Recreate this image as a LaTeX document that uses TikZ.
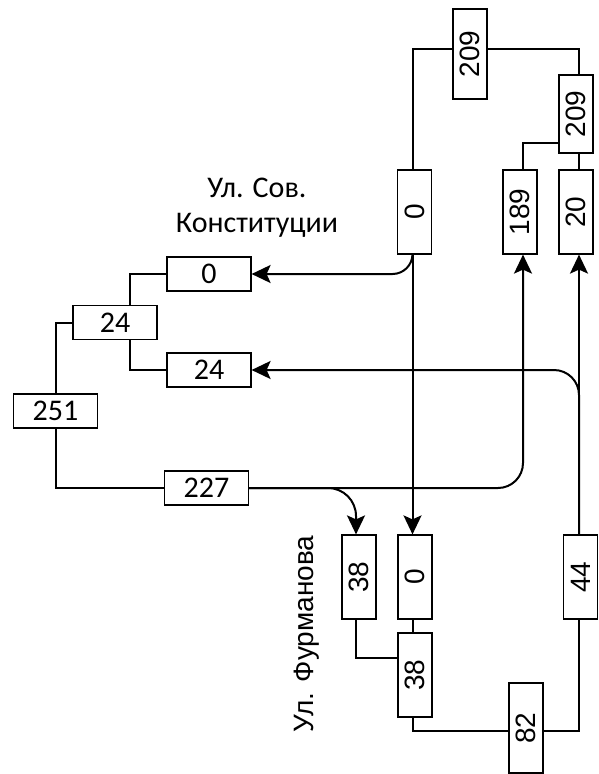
\documentclass[tikz,border=0pt]{standalone}
\usepackage{graphicx}
\usepackage{fontspec}
\setmainfont{Liberation Sans}
\newfontfamily\calfont{Carlito}
\usetikzlibrary{arrows.meta}
\begin{document}
\begin{tikzpicture}[x=1pt,y=-1pt,
  hbox/.style={draw, line width=1.2pt, minimum width=84pt, minimum height=34pt, inner sep=0pt, font=\calfont\fontsize{30}{36}\selectfont},
  vbox/.style={draw, line width=1.2pt, minimum width=34pt, minimum height=84pt, inner sep=0pt, font=\fontsize{28}{34}\selectfont},
  conn/.style={line width=2pt},
  arr/.style={conn, -{Stealth[length=19pt,width=18pt,inset=4pt]}}]
\useasboundingbox[fill=white] (0,0) rectangle (598,774);

% vertical boxes
\node[vbox, minimum height=90pt] (t209) at (470,54) {\rotatebox{90}{209}};
\node[vbox, minimum height=78pt] (t209b) at (576,114) {\rotatebox{90}{209}};
\node[vbox] (z0) at (414.5,212) {\rotatebox{90}{0}};
\node[vbox] (n189) at (520,212) {\rotatebox{90}{189}};
\node[vbox] (n20) at (576,212) {\rotatebox{90}{20}};
\node[vbox] (l38) at (359,577) {\rotatebox{90}{38}};
\node[vbox] (z0b) at (415,577) {\rotatebox{90}{0}};
\node[vbox] (w38) at (415,675) {\rotatebox{90}{38}};
\node[vbox, minimum height=90pt] (b82) at (526,728) {\rotatebox{90}{82}};
\node[vbox] (f44) at (580.5,577) {\rotatebox{90}{44}};

% horizontal boxes
\node[hbox] (zl) at (209,274) {0};
\node[hbox] (t24u) at (115,322.5) {24};
\node[hbox] (t24l) at (209,370) {24};
\node[hbox] (b251) at (55.5,411) {251};
\node[hbox] (b227) at (206.5,488) {227};

% labels
\node[font=\calfont\fontsize{30}{35}\selectfont, align=center] (sov) at (257,208) {Ул. Сов.\\Конституции};
\node[rotate=90, font=\fontsize{28}{34}\selectfont] (furm) at (306.7,634) {Ул. Фурманова};

% connectors
\draw[conn] ([yshift=5pt]t209.west) -| ([xshift=-2pt]z0.north);
\draw[conn] ([yshift=5pt]t209.east) -| ([xshift=3pt]t209b.north);
\draw[conn] ([yshift=-28.5pt]t209b.west) -| ([xshift=3pt]n189.north);
\draw[conn] ([xshift=3pt]t209b.south) -- ([xshift=3pt]n20.north);
\draw[arr, rounded corners=20pt] ([xshift=-2pt]z0.south) |- (zl.east);
\draw[arr] ([xshift=-2pt]z0.south) -- ([xshift=-2.5pt]z0b.north);
\draw[conn] (zl.west) -| ([xshift=15pt]t24u.north);
\draw[conn] (t24u.west) -| (b251.north);
\draw[conn] ([xshift=15pt]t24u.south) |- (t24l.west);
\draw[conn] (b251.south) |- (b227.west);
\draw[arr, rounded corners=25pt] (b227.east) -| ([xshift=3pt]n189.south);
\draw[arr, rounded corners=28pt] (b227.east) -| ([xshift=-3pt]l38.north);
\draw[conn] ([xshift=-2.5pt]z0b.south) -- ([xshift=-2.5pt]w38.north);
\draw[conn] ([xshift=-3pt]l38.south) |- ([yshift=17pt]w38.west);
\draw[conn] ([xshift=-2.5pt]w38.south) |- ([yshift=-3pt]b82.west);
\draw[conn] ([yshift=-3pt]b82.east) -| ([xshift=-1.5pt]f44.south);
\draw[arr] ([xshift=-1.5pt]f44.north) -- ([xshift=3pt]n20.south);
\draw[arr, rounded corners=25pt] ([xshift=-1.5pt]f44.north) |- (t24l.east);
\end{tikzpicture}
\end{document}
